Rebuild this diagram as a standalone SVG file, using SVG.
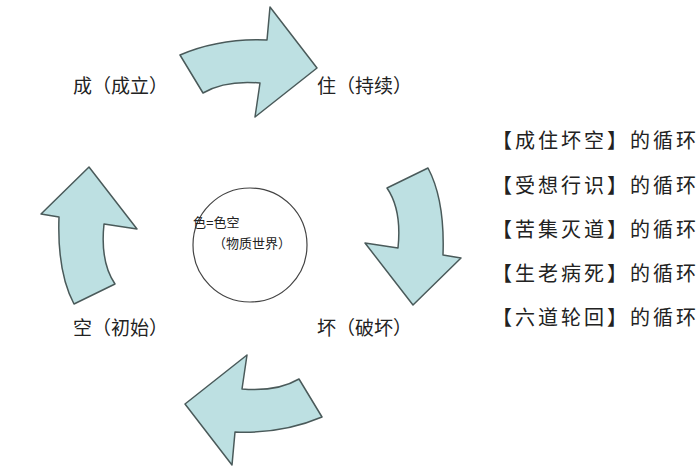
<svg xmlns="http://www.w3.org/2000/svg" width="700" height="470" viewBox="0 0 700 470">
<style>
.a{fill:#bde0e2;stroke:#4a5a5a;stroke-width:1.5;stroke-linejoin:round}
text{font-family:"Liberation Serif","Noto Sans CJK SC",serif;fill:#222}
.l{font-size:19px}
.r{font-size:20px;letter-spacing:3px}
.c{font-size:13px;font-family:"Liberation Sans","Noto Sans CJK SC",sans-serif}
</style>
<rect width="700" height="470" fill="#fff"/>
<g id="connectors">
<path id="arrow-top" class="a" d="M180,55 Q220,38 267,40 L270,7 L317,68 L255,117 L260,83 Q225,80 203,93 Z"/>
<path id="arrow-right" class="a" d="M387,188 L428,168 Q445,200 443,255 L461,258 L413,305 L365,243 L398,248 Q402,210 387,188 Z"/>
<path id="arrow-bottom" class="a" transform="rotate(180 251 236)" d="M180,55 Q220,38 267,40 L270,7 L317,68 L255,117 L260,83 Q225,80 203,93 Z"/>
<path id="arrow-left" class="a" transform="rotate(180 251 236)" d="M387,188 L428,168 Q445,200 443,255 L461,258 L413,305 L365,243 L398,248 Q402,210 387,188 Z"/>
</g>
<g id="center">
<circle cx="250" cy="245" r="57" fill="#fff" stroke="#444" stroke-width="1.2"/>
<text class="c" x="193" y="227">色=色空</text>
<text class="c" x="252" y="248" text-anchor="middle">（物质世界）</text>
</g>
<g id="n-cheng"><text class="l" x="73" y="93">成（成立）</text></g>
<g id="n-zhu"><text class="l" x="317" y="93">住（持续）</text></g>
<g id="n-huai"><text class="l" x="317" y="335">坏（破坏）</text></g>
<g id="n-kong"><text class="l" x="73" y="335">空（初始）</text></g>
<g id="list">
<text class="r" x="492" y="148">【成住坏空】的循环</text>
<text class="r" x="492" y="193">【受想行识】的循环</text>
<text class="r" x="492" y="237">【苦集灭道】的循环</text>
<text class="r" x="492" y="281">【生老病死】的循环</text>
<text class="r" x="492" y="325">【六道轮回】的循环</text>
</g>
</svg>
